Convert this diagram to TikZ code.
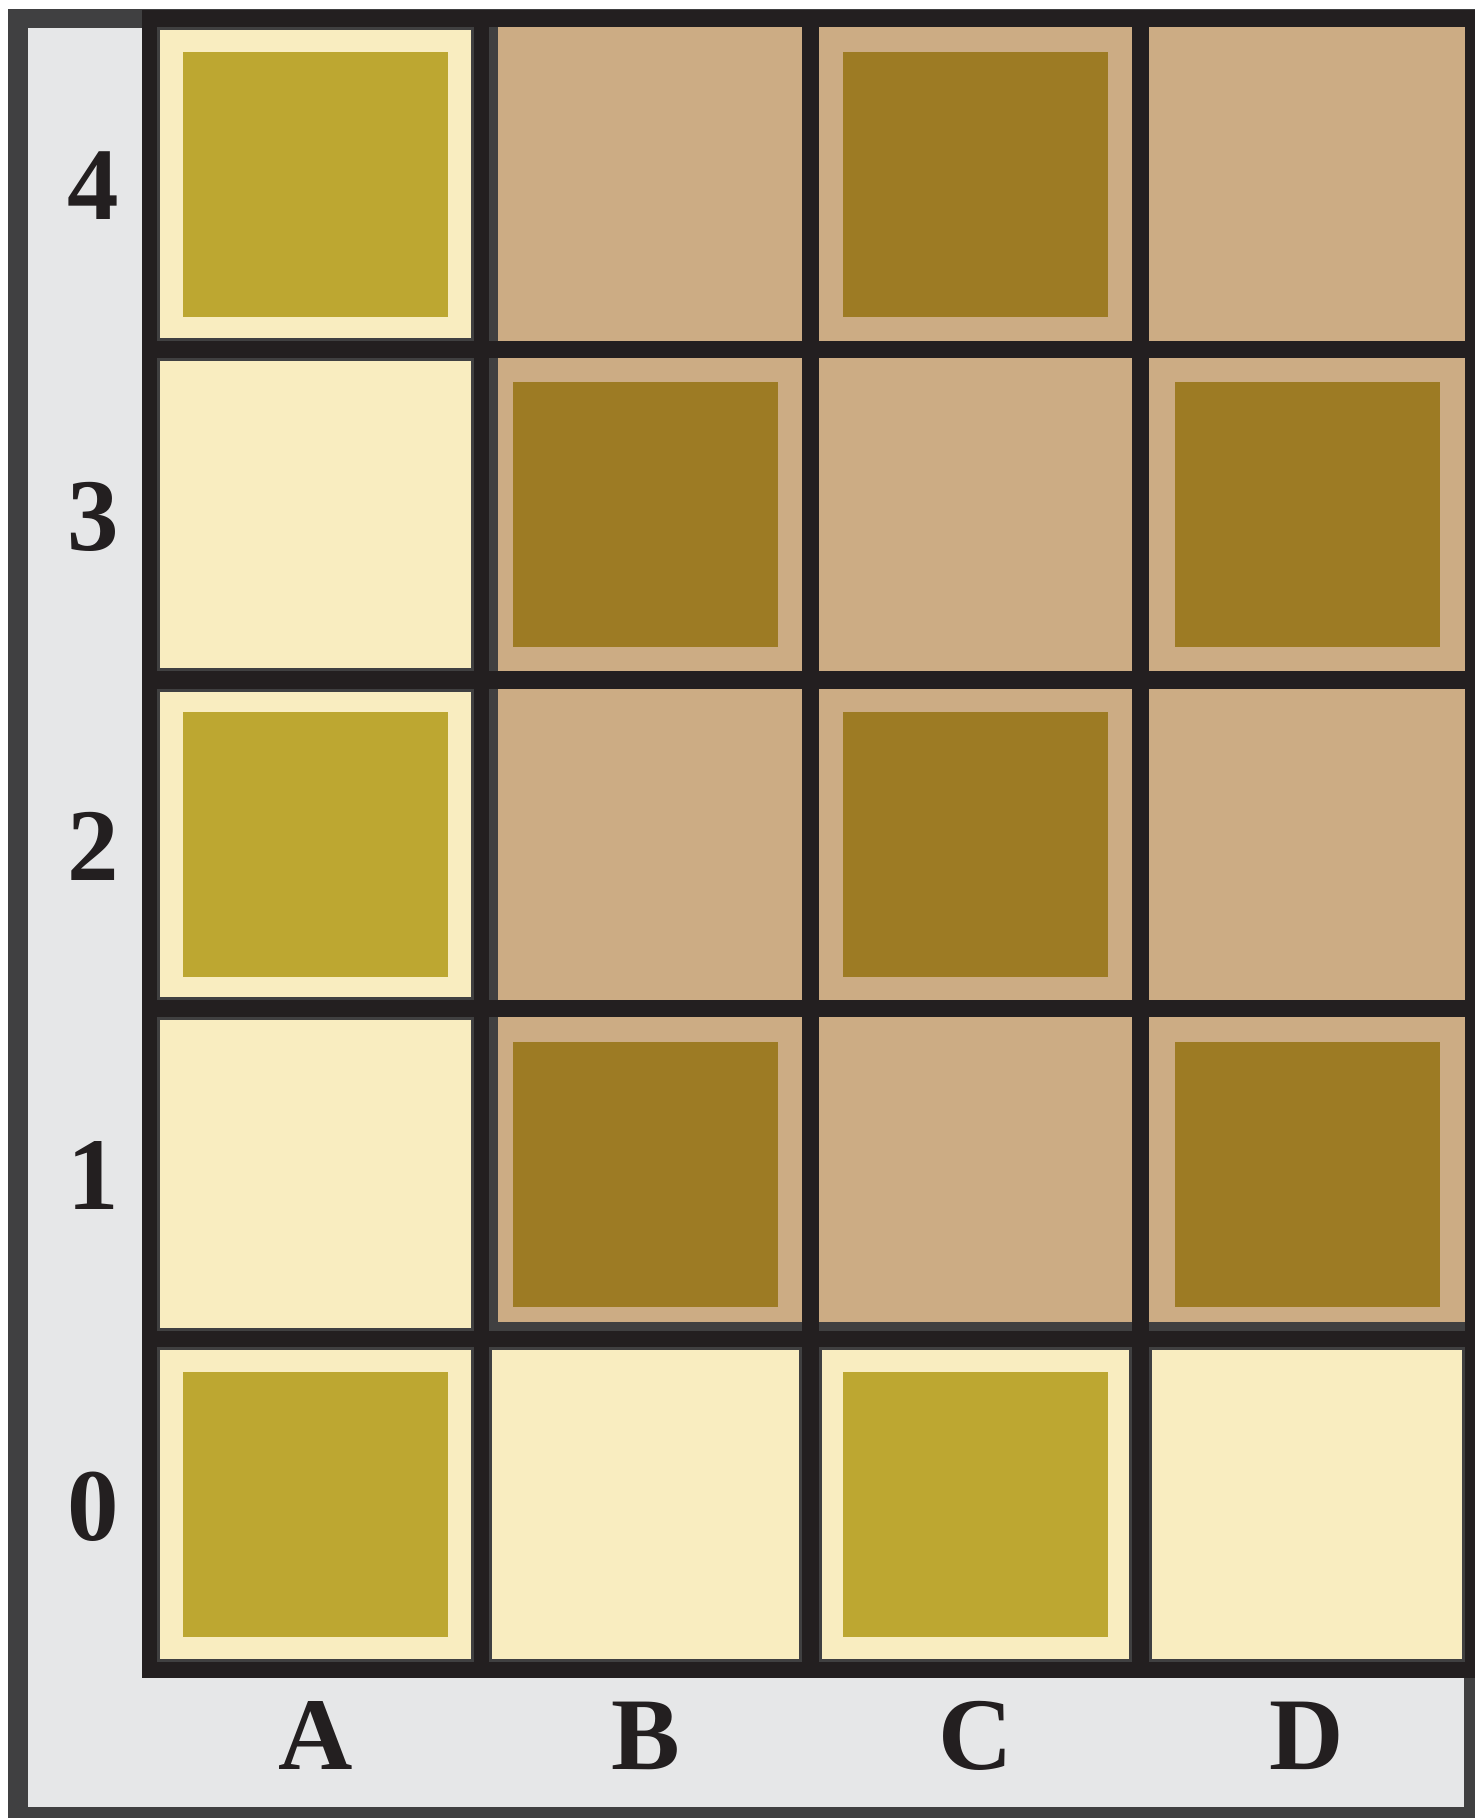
\documentclass[tikz,border=0pt]{standalone}
\usepackage{fontspec}
\setmainfont{Liberation Serif}
\definecolor{frameg}{HTML}{404041}
\definecolor{panelg}{HTML}{E6E7E8}
\definecolor{inkb}{HTML}{231F20}
\definecolor{creamc}{HTML}{F9EDC0}
\definecolor{tanc}{HTML}{CCAC84}
\definecolor{lightol}{HTML}{BDA731}
\definecolor{darkol}{HTML}{9D7B24}
\begin{document}
\begin{tikzpicture}[x=1pt,y=-1pt,
  creamcell/.style={fill=creamc,draw=frameg,line width=3pt},
  lightsq/.style={fill=lightol},
  darksq/.style={fill=darkol},
  lbl/.style={font=\fontsize{103}{103}\selectfont\bfseries,text=inkb,inner sep=0pt,anchor=base}]
\useasboundingbox (0,0) rectangle (1475,1818);
\fill[white] (0,0) rectangle (1475,1818);
% outer frame and panel
\fill[frameg] (8,9) rectangle (1475,1818);
\fill[panelg] (28,28) rectangle (1464,1807);
% board background
\fill[inkb] (142,10) rectangle (1475,1678);
% tan block with shadow strip
\fill[frameg] (489,27) rectangle (1475,1331);
\fill[tanc] (498,27) rectangle (1475,1322);
% grid lines over tan block
\fill[inkb] (802,27) rectangle (819,1331);
\fill[inkb] (1132,27) rectangle (1149,1331);
\fill[inkb] (1465,27) rectangle (1475,1331);
\fill[inkb] (489,341) rectangle (1475,358);
\fill[inkb] (489,671) rectangle (1475,689);
\fill[inkb] (489,1000) rectangle (1475,1017);
% cream cells
\foreach \ya/\yb in {27/341,358/671,689/1000,1017/1331,1347/1662}
  \filldraw[creamcell] (158.5,\ya+1.5) rectangle (472.5,\yb-1.5);
\foreach \xa/\xb in {489/802,819/1132,1149/1465}
  \filldraw[creamcell] (\xa+1.5,1348.5) rectangle (\xb-1.5,1660.5);
% inner squares
\foreach \cx/\cy in {315.5/184,315.5/844.5,315.5/1504.5,975.5/1504.5}
  \fill[lightsq] (\cx-132.5,\cy-132.5) rectangle (\cx+132.5,\cy+132.5);
\foreach \cx/\cy in {975.5/184,645.5/514.5,1307/514.5,975.5/844.5,645.5/1174,1307/1174}
  \fill[darksq] (\cx-132.5,\cy-132.5) rectangle (\cx+132.5,\cy+132.5);
% row labels
\node[lbl] (r4) at (93,219.5) {4};
\node[lbl] (r3) at (93,550) {3};
\node[lbl] (r2) at (93,880) {2};
\node[lbl] (r1) at (93,1209.5) {1};
\node[lbl] (r0) at (93,1540) {0};
% column labels
\node[lbl] (cA) at (315.5,1769) {A};
\node[lbl] (cB) at (645.5,1769) {B};
\node[lbl] (cC) at (975.5,1769) {C};
\node[lbl] (cD) at (1307,1769) {D};
\end{tikzpicture}
\end{document}
